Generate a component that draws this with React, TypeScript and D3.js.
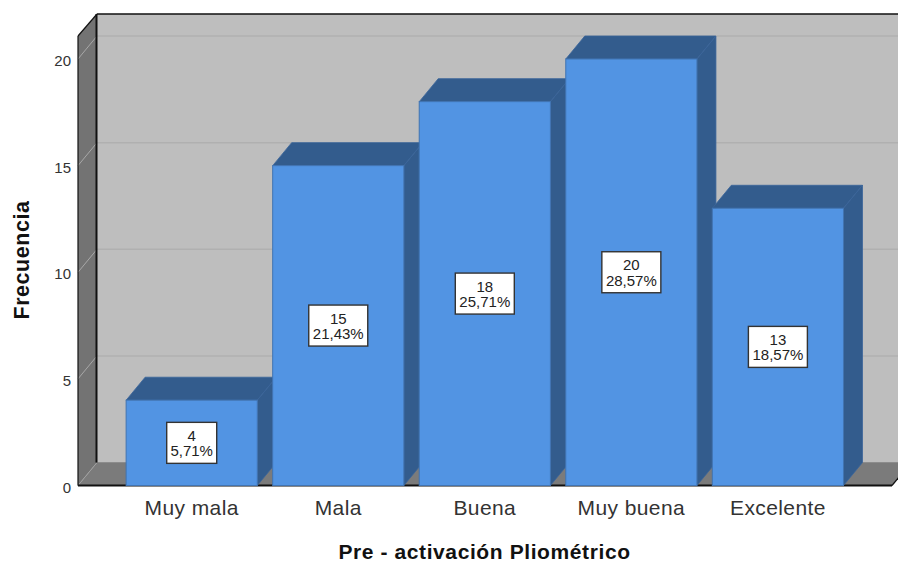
import React from "react";
import * as d3 from "d3";

const categories = ["Muy mala", "Mala", "Buena", "Muy buena", "Excelente"];
const counts = [4, 15, 18, 20, 13];
const shares = ["5,71%", "21,43%", "25,71%", "28,57%", "18,57%"];
const yTicks = [0, 5, 10, 15, 20];

const W = 898;
const H = 563;
const FONT = "'Liberation Sans', Arial, sans-serif";
const DX = 19;
const DY = -23;
const LEFT = 78;
const RIGHT = 892;
const FLOOR = 485.5;
const TOP_BACK = 14;

const y = d3.scaleLinear().domain([0, 20]).range([FLOOR, 59]);
const x = d3.scaleBand<string>().domain(categories).range([118.8, 850.8]).paddingInner(0.105).paddingOuter(0.05);

const poly = (pts: [number, number][]) => {
  const p = d3.path();
  pts.forEach(([a, b], i) => (i ? p.lineTo(a, b) : p.moveTo(a, b)));
  p.closePath();
  return p.toString();
};

export default function App() {
  const y0 = y(0);
  const wallTop = y(20) + DY;
  return (
    <svg width={W} height={H} viewBox={`0 0 ${W} ${H}`} style={{ position: "absolute", left: 0, top: 0, fontFamily: FONT }}>
      <rect width={W} height={H} fill="#fff" />
      {/* back wall, side wall and floor */}
      <rect x={LEFT + DX} y={TOP_BACK} width={W - LEFT - DX} height={y0 + DY - TOP_BACK} fill="#bebebe" />
      <path d={poly([[LEFT, wallTop], [LEFT + DX, TOP_BACK], [LEFT + DX, y0 + DY], [LEFT, y0]])} fill="#737373" />
      <path d={poly([[LEFT, y0], [LEFT + DX, y0 + DY], [RIGHT + DX, y0 + DY], [RIGHT, y0]])} fill="#7b7b7b" />
      {yTicks.slice(1).map((t) => (
        <g key={t}>
          <line x1={LEFT + DX} x2={W} y1={y(t) + DY} y2={y(t) + DY} stroke="#b0b0b0" strokeWidth={1.5} />
          <line x1={LEFT} x2={LEFT + DX} y1={y(t)} y2={y(t) + DY} stroke="#a8a8a8" strokeWidth={1} />
        </g>
      ))}
      <line x1={LEFT} x2={LEFT + DX} y1={y0} y2={y0 + DY} stroke="#a0a0a0" strokeWidth={1} />
      <line x1={LEFT + DX} x2={W} y1={y0 + DY} y2={y0 + DY} stroke="#8c8c8c" strokeWidth={1} />
      {/* frame edges */}
      <g stroke="#111" fill="none">
        <line x1={LEFT + DX} x2={W} y1={TOP_BACK} y2={TOP_BACK} strokeWidth={1.5} />
        <line x1={LEFT + DX - 0.5} x2={LEFT + DX - 0.5} y1={TOP_BACK} y2={y0 + DY} strokeWidth={2} />
        <line x1={LEFT} x2={LEFT + DX} y1={wallTop} y2={TOP_BACK} strokeWidth={1.2} />
        <line x1={LEFT} x2={LEFT} y1={wallTop} y2={y0} strokeWidth={1.2} />
        <line x1={LEFT} x2={RIGHT} y1={y0} y2={y0} strokeWidth={1.8} />
        <line x1={RIGHT} x2={RIGHT + DX} y1={y0} y2={y0 + DY} strokeWidth={1.2} />
      </g>
      {/* 3D bars */}
      {categories.map((c, i) => {
        const bx = x(c)!;
        const bw = x.bandwidth();
        const top = y(counts[i]);
        return (
          <g key={c}>
            <path d={poly([[bx, top], [bx + DX, top + DY], [bx + bw + DX, top + DY], [bx + bw, top]])} fill="#335c8d" stroke="#3a659a" strokeWidth={0.8} />
            <path d={poly([[bx + bw, top], [bx + bw + DX, top + DY], [bx + bw + DX, y0 + DY], [bx + bw, y0]])} fill="#335c8d" stroke="#3a659a" strokeWidth={0.8} />
            <rect x={bx} y={top} width={bw} height={y0 - top} fill="#5294e3" stroke="#4174b2" strokeWidth={1} />
          </g>
        );
      })}
      {/* value labels */}
      {categories.map((c, i) => {
        const cx = x(c)! + x.bandwidth() / 2;
        const cy = (y(counts[i]) + y0) / 2;
        const bw = shares[i].length > 5 ? 59 : 50;
        return (
          <g key={c} textAnchor="middle" fontSize={15} fill="#222">
            <rect x={cx - bw / 2} y={cy - 20.5} width={bw} height={41} fill="#fff" stroke="#333" strokeWidth={1.4} />
            <text x={cx} y={cy - 2}>{counts[i]}</text>
            <text x={cx} y={cy + 13.5}>{shares[i]}</text>
          </g>
        );
      })}
      {/* axes */}
      {yTicks.map((t) => (
        <text key={t} x={71} y={y(t) + 7} textAnchor="end" fontSize={15} fill="#333">{t}</text>
      ))}
      {categories.map((c) => (
        <text key={c} x={x(c)! + x.bandwidth() / 2} y={515} textAnchor="middle" fontSize={21} letterSpacing={0.4} fill="#333">{c}</text>
      ))}
      <text x={484.5} y={558.5} textAnchor="middle" fontSize={21} letterSpacing={0.6} fontWeight="bold" fill="#111">Pre - activación Pliométrico</text>
      <text transform="translate(29,260) rotate(-90)" textAnchor="middle" fontSize={21.5} letterSpacing={0.55} fontWeight="bold" fill="#111">Frecuencia</text>
    </svg>
  );
}
